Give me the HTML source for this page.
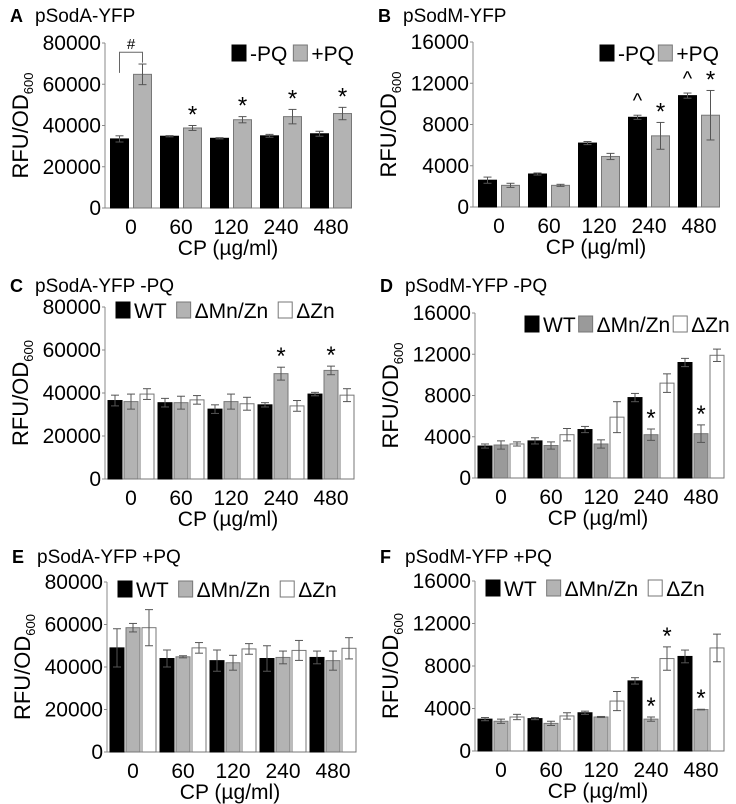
<!DOCTYPE html>
<html><head><meta charset="utf-8"><style>
html,body{margin:0;padding:0;background:#fff}
svg{display:block;font-family:"Liberation Sans",Arial,sans-serif}
</style></head><body>
<svg id="fig" width="736" height="804" viewBox="0 0 736 804"></svg>
<script>
const categories=["0","60","120","240","480"];
// Panel A
const aMinusPQ=[33500,34800,33800,35000,36000], aMinusPQErr=[1500,300,300,700,1200];
const aPlusPQ=[64800,38800,42800,44300,45800], aPlusPQErr=[5000,1200,1500,3500,3000];
// Panel B
const bMinusPQ=[2600,3200,6200,8700,10800], bMinusPQErr=[300,100,150,200,250];
const bPlusPQ=[2100,2100,4900,6900,8900], bPlusPQErr=[200,100,300,1300,2400];
// Panel C
const cWT=[36500,35500,32500,34500,39500], cWTErr=[2500,2000,2000,1000,800];
const cMnZn=[36000,35500,36000,49000,50500], cMnZnErr=[3500,3000,3500,3000,2000];
const cZn=[39500,36800,35000,34000,39000], cZnErr=[2500,2000,3000,2500,3000];
// Panel D
const dWT=[3100,3600,4700,7800,11200], dWTErr=[200,300,300,400,400];
const dMnZn=[3200,3150,3300,4200,4300], dMnZnErr=[400,350,400,550,850];
const dZn=[3300,4200,5900,9200,11900], dZnErr=[200,600,1500,900,600];
// Panel E
const eWT=[49000,44000,43000,44000,44500], eWTErr=[9000,4000,5000,6000,3000];
const eMnZn=[58500,44800,42000,44500,43000], eMnZnErr=[2000,500,3500,3000,4500];
const eZn=[58500,49000,48500,47800,48800], eZnErr=[8500,2500,2500,4700,5000];
// Panel F
const fWT=[3000,3050,3600,6600,8900], fWTErr=[150,100,150,300,600];
const fMnZn=[2800,2600,3200,3000,3900], fMnZnErr=[200,200,50,200,30];
const fZn=[3200,3300,4700,8700,9700], fZnErr=[250,300,900,1100,1300];
const ticks80=[0,20000,40000,60000,80000];
const ticks16=[0,4000,8000,12000,16000];

const NS="http://www.w3.org/2000/svg";
const svg=document.getElementById('fig');
function mk(tag,attrs,parent,text){const e=document.createElementNS(NS,tag);for(const k in attrs)e.setAttribute(k,attrs[k]);if(text!==undefined)e.textContent=text;(parent||svg).appendChild(e);return e;}

function panel(p){
  const g=mk('g',{});
  
  
  const yS=v=>p.y0-(v/p.max)*(p.y0-p.ytop);
  const xC=i=>p.ax+26+i*50;
  const lt=mk('text',{x:p.ax-95,y:p.ty,'font-size':18,'font-weight':'bold'},g,p.id);
  
  const tt=mk('text',{x:p.ax-70,y:p.ty,'font-size':19},g,p.title);
  
  const ya=mk('line',{x1:p.ax,y1:p.ytop,x2:p.ax,y2:p.y0,stroke:'#888','stroke-width':1},g);
  
  const xa=mk('line',{x1:p.ax,y1:p.y0,x2:p.ax+245,y2:p.y0,stroke:'#888','stroke-width':1},g);
  
  p.ticks.forEach(t=>{
    mk('line',{x1:p.ax-3,y1:yS(t),x2:p.ax,y2:yS(t),stroke:'#888'},g);
    const tl=mk('text',{x:p.ax-4,y:yS(t)+7,'font-size':21,'text-anchor':'end'},g,String(t));
    
  });
  categories.forEach((c,i)=>{
    const cl=mk('text',{x:xC(i),y:p.y0+26,'font-size':21,'text-anchor':'middle'},g,c);
    
  });
  const xt=mk('text',{x:p.ax+123,y:p.y0+47,'font-size':21,'text-anchor':'middle'},g,'CP (µg/ml)');
  
  const cy=(p.y0+p.ytop)/2;
  const yt=mk('text',{x:0,y:0,'font-size':22,'text-anchor':'middle',transform:`translate(${p.ax-77},${cy}) rotate(-90)`},g);
  
  mk('tspan',{},yt,'RFU/OD');mk('tspan',{'font-size':13,dy:5},yt,'600');
  const n=p.series.length, bw=n===2?18:14, gap=n===2?5:2;
  const gw=n*bw+(n-1)*gap;
  p.series.forEach((s,si)=>{
    categories.forEach((c,i)=>{
      const x=xC(i)-gw/2+si*(bw+gap);
      const v=s.vals[i],e=s.err[i];
      const r=mk('rect',{x:x,y:yS(v),width:bw,height:p.y0-yS(v),fill:s.fill,stroke:s.fill==='#000'?'#000':'#777','stroke-width':1},g);
      
      
      const cx=x+bw/2;
      const ec='#555';
      mk('line',{x1:cx,y1:yS(v+e),x2:cx,y2:yS(v-e),stroke:ec,'stroke-width':1},g);
      mk('line',{x1:cx-4,y1:yS(v+e),x2:cx+4,y2:yS(v+e),stroke:ec},g);
      mk('line',{x1:cx-4,y1:yS(v-e),x2:cx+4,y2:yS(v-e),stroke:ec},g);
      const mark=(s.marks||{})[i];
      if(mark){
        const m=mk('text',{x:cx,y:yS(v+e)-(mark==='*'?3:8),'font-size':mark==='*'?24:20,'text-anchor':'middle'},g,mark);
        
      }
    });
  });
  let lx=p.lx;
  p.series.forEach(s=>{
    const lg=mk('g',{},g);
    
    mk('rect',{x:lx,y:p.ly-16,width:14,height:16,fill:s.fill,stroke:s.fill==='#000'?'#000':'#777'},lg);
    const t=mk('text',{x:lx+18,y:p.ly,'font-size':21},lg,s.name);
    lx+=18+t.getComputedTextLength()+p.lgap;
  });
  return {g,yS,xC,gw,bw,gap};
}
const GR='#b3b3b3', GD='#9a9a9a', W='#fff';
const A=panel({id:'A',title:'pSodA-YFP',ax:105,y0:208,ytop:43,max:80000,ticks:ticks80,ty:22,lx:232,ly:61,lgap:6,
  series:[{key:'minus-pq',name:'-PQ',fill:'#000',vals:aMinusPQ,err:aMinusPQErr},
          {key:'plus-pq',name:'+PQ',fill:GR,vals:aPlusPQ,err:aPlusPQErr,marks:{1:'*',2:'*',3:'*',4:'*'}}]});
(function(){const g=A.g;const x1=A.xC(0)-A.gw/2+9, x2=x1+23;
  const b=mk('path',{d:`M${x1} ${A.yS(65500)} V${A.yS(75500)} H${x2} V${A.yS(70500)}`,fill:'none',stroke:'#666'},g);
  
  const h=mk('text',{x:(x1+x2)/2,y:A.yS(77000),'font-size':15,'text-anchor':'middle'},g,'#');
  })();
panel({id:'B',title:'pSodM-YFP',ax:473,y0:207,ytop:42,max:16000,ticks:ticks16,ty:22,lx:600,ly:61,lgap:3,
  series:[{key:'minus-pq',name:'-PQ',fill:'#000',vals:bMinusPQ,err:bMinusPQErr,marks:{3:'^',4:'^'}},
          {key:'plus-pq',name:'+PQ',fill:GR,vals:bPlusPQ,err:bPlusPQErr,marks:{3:'*',4:'*'}}]});
panel({id:'C',title:'pSodA-YFP -PQ',ax:105,y0:479,ytop:307,max:80000,ticks:ticks80,ty:292,lx:116,ly:318,lgap:10,
  series:[{key:'wt',name:'WT',fill:'#000',vals:cWT,err:cWTErr},
          {key:'mn-zn',name:'ΔMn/Zn',fill:GR,vals:cMnZn,err:cMnZnErr,marks:{3:'*',4:'*'}},
          {key:'zn',name:'ΔZn',fill:W,vals:cZn,err:cZnErr}]});
panel({id:'D',title:'pSodM-YFP -PQ',ax:475,y0:478,ytop:313,max:16000,ticks:ticks16,ty:292,lx:525,ly:332,lgap:3,
  series:[{key:'wt',name:'WT',fill:'#000',vals:dWT,err:dWTErr},
          {key:'mn-zn',name:'ΔMn/Zn',fill:GD,vals:dMnZn,err:dMnZnErr,marks:{3:'*',4:'*'}},
          {key:'zn',name:'ΔZn',fill:W,vals:dZn,err:dZnErr}]});
panel({id:'E',title:'pSodA-YFP +PQ',ax:107,y0:752,ytop:582,max:80000,ticks:ticks80,ty:563,lx:118,ly:597,lgap:10,
  series:[{key:'wt',name:'WT',fill:'#000',vals:eWT,err:eWTErr},
          {key:'mn-zn',name:'ΔMn/Zn',fill:GR,vals:eMnZn,err:eMnZnErr},
          {key:'zn',name:'ΔZn',fill:W,vals:eZn,err:eZnErr}]});
panel({id:'F',title:'pSodM-YFP +PQ',ax:475,y0:751,ytop:581,max:16000,ticks:ticks16,ty:563,lx:486,ly:596,lgap:10,
  series:[{key:'wt',name:'WT',fill:'#000',vals:fWT,err:fWTErr},
          {key:'mn-zn',name:'ΔMn/Zn',fill:GR,vals:fMnZn,err:fMnZnErr,marks:{3:'*',4:'*'}},
          {key:'zn',name:'ΔZn',fill:W,vals:fZn,err:fZnErr,marks:{3:'*'}}]});
</script>
</body></html>
